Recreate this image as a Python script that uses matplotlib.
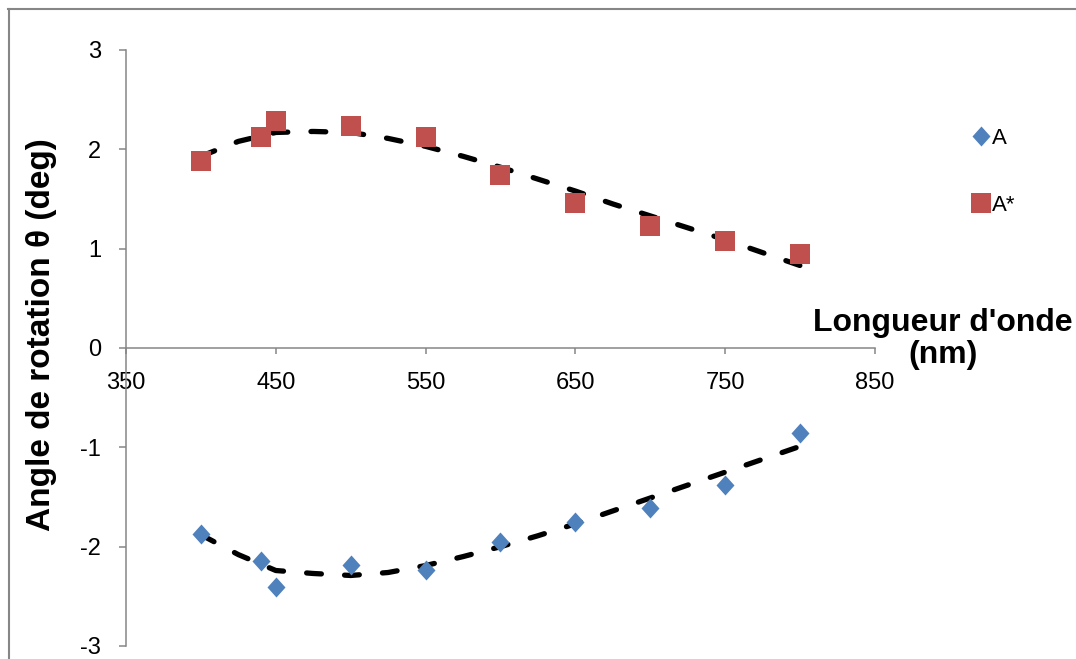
import numpy as np
import matplotlib
matplotlib.use("Agg")
import matplotlib.pyplot as plt
from matplotlib.lines import Line2D
from matplotlib.path import Path

plt.rcParams['font.family'] = ['Liberation Sans', 'DejaVu Sans']
plt.rcParams['axes.unicode_minus'] = False

# longueurs d'onde (nm)
longueurs = [400, 440, 450, 500, 550, 600, 650, 700, 750, 800]
# angle de rotation (deg)
serie_A = [-1.87, -2.14, -2.41, -2.18, -2.23, -1.95, -1.75, -1.61, -1.38, -0.86]
serie_A_star = [1.88, 2.12, 2.29, 2.23, 2.12, 1.74, 1.46, 1.23, 1.08, 0.95]

# courbes de tendance (tous les 25 nm)
x_tendance = [400, 425, 450, 475, 500, 525, 550, 575, 600, 625, 650, 675,
              700, 725, 750, 775, 800]
tendance_A = [-1.88, -2.08, -2.24, -2.27, -2.29, -2.26, -2.19, -2.10, -2.00,
              -1.89, -1.77, -1.64, -1.51, -1.38, -1.25, -1.12, -0.99]
tendance_A_star = [1.93, 2.08, 2.17, 2.18, 2.17, 2.11, 2.03, 1.93, 1.82,
                   1.70, 1.58, 1.45, 1.33, 1.21, 1.09, 0.96, 0.83]

BLEU = '#4F81BD'
ROUGE = '#C0504D'
GRIS = '#868686'

W, H = 1076, 659
fig = plt.figure(figsize=(W / 100, H / 100), dpi=100)
ax = fig.add_axes([126 / W, 13 / H, (875 - 126) / W, (646 - 50) / H])

# losange un peu plus haut que large, comme dans Excel
losange = Path([(0, 1), (0.9, 0), (0, -1), (-0.9, 0), (0, 1)],
               [Path.MOVETO, Path.LINETO, Path.LINETO, Path.LINETO, Path.CLOSEPOLY])

for tendance in (tendance_A, tendance_A_star):
    ax.plot(x_tendance, tendance, color='black', lw=3.8, dashes=(2.8, 4.4),
            dash_capstyle='round', solid_joinstyle='round', zorder=2)

ax.plot(longueurs, serie_A, linestyle='none', marker=losange, markersize=14.4,
        color=BLEU, markeredgewidth=0, label='A', zorder=3)
ax.plot(longueurs, serie_A_star, linestyle='none', marker='s', markersize=14.4,
        color=ROUGE, markeredgewidth=0, label='A*', zorder=3)

ax.set_xlim(350, 850)
ax.set_ylim(-3, 3)
ax.set_xticks(range(350, 851, 100))
ax.set_yticks(range(-3, 4))

for s in ('top', 'right'):
    ax.spines[s].set_visible(False)
ax.spines['bottom'].set_position(('data', 0))
for s in ('left', 'bottom'):
    ax.spines[s].set_color(GRIS)
    ax.spines[s].set_linewidth(1.1)

ax.tick_params(axis='x', direction='out', length=4.5, width=1.1, color=GRIS,
               labelsize=17, pad=13)
ax.tick_params(axis='y', direction='out', length=5, width=1.1, color=GRIS,
               labelsize=17, pad=13)

fig.text(42 / W, 1 - 335 / H, "Angle de rotation θ (deg)", rotation=90,
         ha='center', va='center', fontsize=24, fontweight='bold')
fig.text(943 / W, 1 - 339 / H, "Longueur d'onde\n(nm)", ha='center',
         va='center', fontsize=23, fontweight='bold', linespacing=1.12)

fig.legend(loc='upper left', bbox_to_anchor=(972 / W, 1 - 128 / H),
           frameon=False, fontsize=16, handlelength=0.8, handletextpad=0.1,
           labelspacing=2.05, borderpad=0, borderaxespad=0)

# cadre du graphique
fig.add_artist(Line2D([8.5 / W, 8.5 / W], [0, 1 - 9 / H],
                      transform=fig.transFigure, color=GRIS, lw=1.5))
fig.add_artist(Line2D([8 / W, 1], [1 - 9 / H, 1 - 9 / H],
                      transform=fig.transFigure, color=GRIS, lw=1.5))

fig.savefig('out.png', dpi=100)
